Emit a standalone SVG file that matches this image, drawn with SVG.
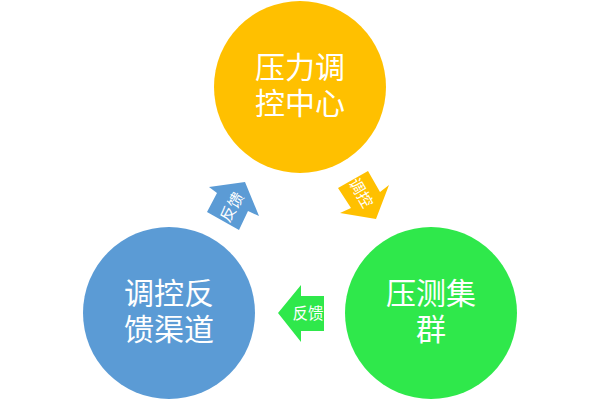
<svg xmlns="http://www.w3.org/2000/svg" width="600" height="401" viewBox="0 0 600 401">
<style>
text{font-family:"Noto Sans CJK SC","Noto Sans",sans-serif;fill:#fff;text-anchor:middle}
.big{font-size:30px}
.small{font-size:15.5px}
.o{fill:#ffc000}.b{fill:#5b9bd5}.g{fill:#2fe84b}
</style>
<rect width="600" height="401" fill="#fff"/>
<g id="connectors">
<g id="arrow-feedback-up">
<polygon class="b" points="209,187 245,182 259,216 248,211 239,230 207,212 217,193"/>
<text class="small" transform="translate(232,207) rotate(-60)" y="5.5">反馈</text>
</g>
<g id="arrow-control">
<polygon class="o" points="368,171 380,192 389,185 376,219 340,213 351,208 338,188"/>
<text class="small" transform="translate(361,193) rotate(60)" y="5.5">调控</text>
</g>
<g id="arrow-feedback-left">
<polygon class="g" points="278,313 301,285 301,296 324,296 324,331 301,331 301,342"/>
<text class="small" transform="translate(308,313)" y="5.5">反馈</text>
</g>
</g>
<g id="node-pressure-center">
<circle class="o" cx="300" cy="87" r="86"/>
<text class="big"><tspan x="300" y="78">压力调</tspan><tspan x="300" y="114">控中心</tspan></text>
</g>
<g id="node-feedback-channel">
<circle class="b" cx="169" cy="313" r="86"/>
<text class="big"><tspan x="169" y="304">调控反</tspan><tspan x="169" y="340">馈渠道</tspan></text>
</g>
<g id="node-cluster">
<circle class="g" cx="431" cy="313" r="86"/>
<text class="big"><tspan x="431" y="304">压测集</tspan><tspan x="431" y="340">群</tspan></text>
</g>
</svg>
